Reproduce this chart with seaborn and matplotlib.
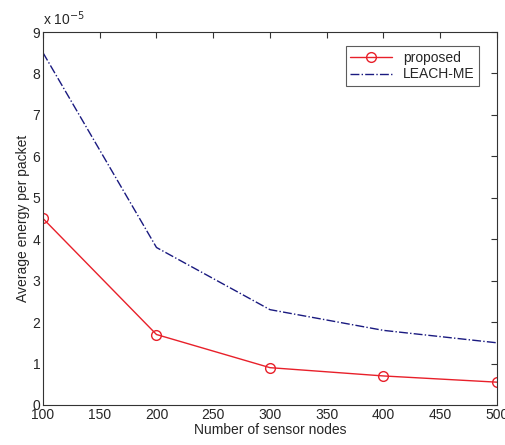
import matplotlib
matplotlib.use("Agg")
import matplotlib.pyplot as plt
import seaborn as sns
import pandas as pd
from matplotlib.ticker import FuncFormatter

sns.set_style("white")
plt.rcParams['font.family'] = ['Liberation Sans', 'DejaVu Sans']

nodes = [100, 200, 300, 400, 500]
proposed = [4.5, 1.7, 0.9, 0.7, 0.55]
leach_me = [8.5, 3.8, 2.3, 1.8, 1.5]
scale = 1e-5

df = pd.DataFrame({
    "nodes": nodes * 2,
    "energy": [v * scale for v in proposed] + [v * scale for v in leach_me],
    "method": ["proposed"] * 5 + ["LEACH-ME"] * 5,
})

fig = plt.figure(figsize=(5.06, 4.45), dpi=100)
ax = fig.add_axes([0.085, 0.09, 0.897, 0.838])

sns.lineplot(data=df[df.method == "proposed"], x="nodes", y="energy", ax=ax,
             color="#e8202a", marker="o", markersize=7, markerfacecolor="none",
             markeredgecolor="#e8202a", markeredgewidth=1, linewidth=1,
             label="proposed")
sns.lineplot(data=df[df.method == "LEACH-ME"], x="nodes", y="energy", ax=ax,
             color="#1a1a80", linestyle="-.", linewidth=1, label="LEACH-ME")

ax.set_xlim(100, 500)
ax.set_ylim(0, 9e-5)
ax.set_xticks(range(100, 501, 50))
ax.set_yticks([i * scale for i in range(10)])
ax.yaxis.set_major_formatter(FuncFormatter(lambda v, p: f"{round(v / scale):d}"))
ax.text(0.0, 1.012, r"x 10$^{-5}$", transform=ax.transAxes, fontsize=10,
        ha="left", va="bottom")

ax.set_xlabel("Number of sensor nodes", fontsize=10, labelpad=1)
ax.set_ylabel("Average energy per packet", fontsize=10, labelpad=2)
ax.tick_params(direction="in", length=4, labelsize=10, top=True, right=True,
               width=0.8, color="#333333", pad=2)
for s in ax.spines.values():
    s.set_color("#333333")
    s.set_linewidth(0.8)

leg = ax.legend(loc="upper right", bbox_to_anchor=(0.975, 0.98), fontsize=10,
                frameon=True, fancybox=False, edgecolor="#333333",
                handlelength=3, borderpad=0.3, labelspacing=0.2)
leg.get_frame().set_linewidth(0.8)

fig.savefig("out.png", dpi=100)
